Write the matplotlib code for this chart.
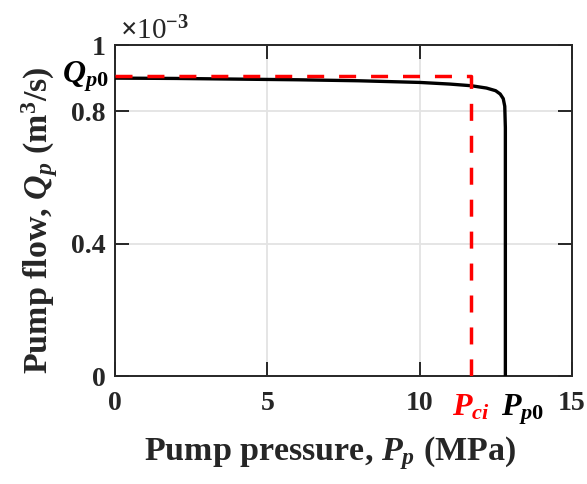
import matplotlib
matplotlib.use('Agg')
import matplotlib.pyplot as plt

plt.rcParams['font.family'] = 'Liberation Serif'
plt.rcParams['font.weight'] = 'bold'
plt.rcParams['mathtext.fontset'] = 'custom'
plt.rcParams['mathtext.rm'] = 'Liberation Serif:bold'
plt.rcParams['mathtext.it'] = 'Liberation Serif:italic:bold'
plt.rcParams['mathtext.bf'] = 'Liberation Serif:bold'

# pump characteristic (flow in 1e-3 m^3/s)
pressure = [0, 2, 4, 6, 8, 10, 11, 11.7, 12.2, 12.5, 12.65, 12.75, 12.8, 12.82, 12.82]
flow = [0.900, 0.899, 0.897, 0.895, 0.892, 0.887, 0.882, 0.877, 0.870, 0.862, 0.852, 0.838, 0.815, 0.75, 0.0]

# idealized characteristic
p_ci = 11.7
p_p0 = 12.82
q_p0 = 0.905
ideal_p = [0, p_ci, p_ci]
ideal_q = [q_p0, q_p0, 0]

fig = plt.figure(figsize=(5.87, 4.84), dpi=100)
ax = fig.add_axes([0.196, 0.223, 0.778, 0.684])

ax.plot(pressure, flow, color='black', lw=2.4, zorder=3)
ax.plot(ideal_p, ideal_q, color='red', lw=2.5, ls=(0, (4.9, 4.3)), zorder=4)

ax.set_xlim(0, 15)
ax.set_ylim(0, 1)
ax.set_xticks([0, 5, 10, 15])
ax.set_yticks([0, 0.4, 0.8, 1])
ax.set_xticklabels(['0', '5', '10', '15'])
ax.set_yticklabels(['0', '0.4', '0.8', '1'])
ax.grid(True, color='#e3e3e3', lw=1.3)
ax.set_axisbelow(True)
ax.tick_params(direction='in', length=10, width=1.4, labelsize=20, colors='#262626',
               top=True, right=True)
ax.tick_params(axis='x', pad=11)
ax.tick_params(axis='y', pad=7)
for s in ax.spines.values():
    s.set_linewidth(1.4)
    s.set_color('#262626')

ax.set_xlabel('Pump pressure, $P_p$ (MPa)', fontsize=24.5, fontweight='bold',
              color='#262626', labelpad=13)
ax.set_ylabel('Pump flow, $Q_p$ (m$^3$/s)', fontsize=24.5, fontweight='bold',
              color='#262626', labelpad=8)
ax.xaxis.label.set_x(0.47)
ax.yaxis.label.set_y(0.47)

ax.text(p_ci, -0.05, r'$P_{ci}$', color='red', fontsize=23, ha='center', va='top',
        clip_on=False)
ax.text(13.4, -0.05, r'$P_{p0}$', color='black', fontsize=23, ha='center', va='top',
        clip_on=False)
ax.text(-0.2, q_p0, r'$Q_{p0}$', color='black', fontsize=23, ha='right', va='center',
        clip_on=False)
ax.text(0.01, 1.0, r'$\times$10$^{-3}$', transform=ax.transAxes, fontsize=21,
        color='#262626', ha='left', va='bottom', fontweight='normal')

fig.savefig('out.png', dpi=100)
